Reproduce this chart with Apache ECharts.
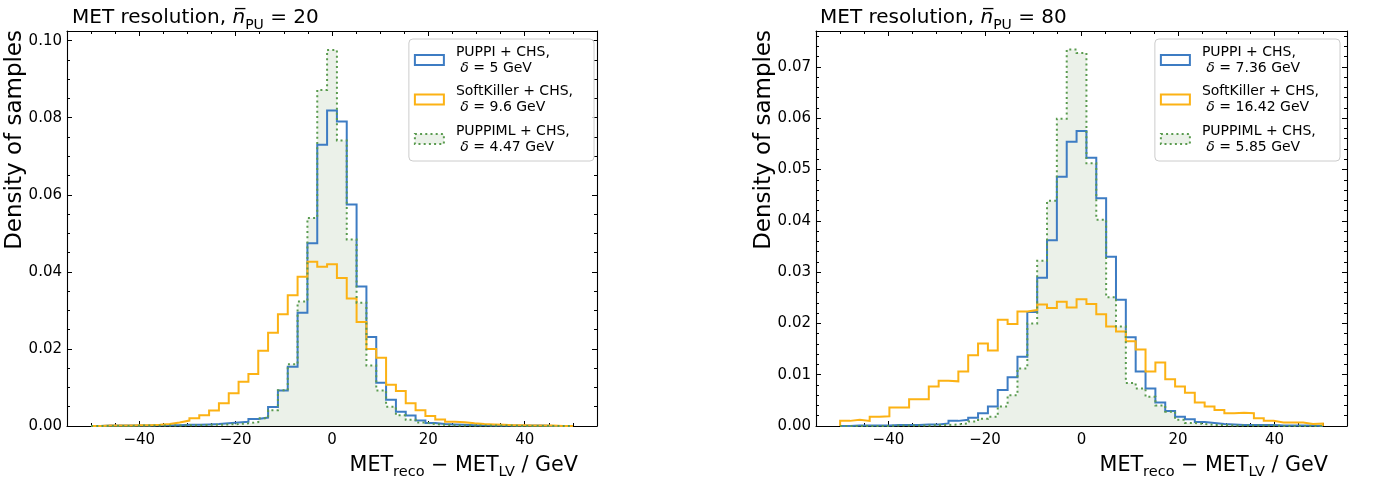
<!DOCTYPE html>
<html><head><meta charset="utf-8">
<script src="https://cdn.jsdelivr.net/npm/echarts@6/dist/echarts.min.js"></script>
<style>html,body{margin:0;padding:0;background:#fff}#c{width:1375px;height:483px}</style>
</head><body><div id="c"></div>
<script>
// ---------------- data ----------------
const BIN_LOW = -50, BIN_HIGH = 50, N_BINS = 49;   // histogram binning (49 bins)
const X_MIN = -55, X_MAX = 55;
const X_MAJOR_TICKS = [-40, -20, 0, 20, 40];
const X_MINOR_TICKS = [-50, -45, -35, -30, -25, -15, -10, -5, 5, 10, 15, 25, 30, 35, 45, 50];
const Y_MAX_20 = 0.1025, Y_MAX_80 = 0.077;
const Y_MAJOR_TICKS_20 = [0, 0.02, 0.04, 0.06, 0.08, 0.10];
const Y_MINOR_TICKS_20 = [0.005, 0.01, 0.015, 0.025, 0.03, 0.035, 0.045, 0.05, 0.055, 0.065, 0.07, 0.075, 0.085, 0.09, 0.095];
const Y_MAJOR_TICKS_80 = [0, 0.01, 0.02, 0.03, 0.04, 0.05, 0.06, 0.07];
const Y_MINOR_TICKS_80 = [0.002, 0.004, 0.006, 0.008, 0.012, 0.014, 0.016, 0.018, 0.022, 0.024, 0.026, 0.028,
  0.032, 0.034, 0.036, 0.038, 0.042, 0.044, 0.046, 0.048, 0.052, 0.054, 0.056, 0.058, 0.062, 0.064, 0.066, 0.068, 0.072, 0.074, 0.076];

const METHODS = ['PUPPI + CHS,', 'SoftKiller + CHS,', 'PUPPIML + CHS,'];
const DELTA_20 = ['5', '9.6', '4.47'];
const DELTA_80 = ['7.36', '16.42', '5.85'];
const TITLE_20 = 'MET resolution, {it|n\u0305}{sub|PU} = 20';
const TITLE_80 = 'MET resolution, {it|n\u0305}{sub|PU} = 80';
const X_NAME = 'MET{sub|reco} \u2212 MET{sub|LV} / GeV';
const Y_NAME = 'Density of samples';

// density per bin, bins ordered from -50 to 50 (index 24 = central bin)
const PUPPI_20 = [0, 0.0001, 0.0001, 0.0001, 0.0001, 0.0001, 0.0002, 0.0002, 0.0002, 0.0003, 0.0003, 0.0004,
  0.0005, 0.0007, 0.0009, 0.0011, 0.0018, 0.0022, 0.0049, 0.0092, 0.0154, 0.0294, 0.0474, 0.0730,
  0.0819,
  0.0790, 0.0575, 0.0362, 0.0231, 0.0112, 0.0068, 0.0037, 0.0027, 0.0014, 0.0008, 0.0005, 0.0004,
  0.0003, 0.0002, 0.0002, 0.0001, 0.0001, 0.0001, 0.0001, 0.0001, 0.0001, 0, 0, 0];
const SOFTKILLER_20 = [0, 0.0001, 0.0001, 0.0001, 0.0002, 0.0002, 0.0003, 0.0005, 0.0009, 0.0014, 0.0020, 0.0028,
  0.0040, 0.0059, 0.0085, 0.0115, 0.0135, 0.0195, 0.0242, 0.0290, 0.0339, 0.0387, 0.0426, 0.0413,
  0.0420,
  0.0384, 0.0331, 0.0270, 0.0200, 0.0177, 0.0107, 0.0091, 0.0059, 0.0041, 0.0026, 0.0017, 0.0011,
  0.0010, 0.0007, 0.0005, 0.0004, 0.0003, 0.0002, 0.0002, 0.0001, 0.0001, 0.0001, 0, 0];
const PUPPIML_20 = [0, 0, 0, 0, 0.0001, 0.0001, 0.0001, 0.0001, 0.0001, 0.0002, 0.0002, 0.0003,
  0.0003, 0.0004, 0.0005, 0.0007, 0.0010, 0.0020, 0.0041, 0.0093, 0.0160, 0.0323, 0.0540, 0.0872,
  0.0976,
  0.0741, 0.0484, 0.0320, 0.0157, 0.0092, 0.0050, 0.0028, 0.0016, 0.0009, 0.0005, 0.0003, 0.0002,
  0.0001, 0.0001, 0.0001, 0.0001, 0.0001, 0.0001, 0, 0, 0, 0, 0, 0];

const PUPPI_80 = [0, 0.0001, 0.0001, 0.0001, 0.0001, 0.0002, 0.0002, 0.0002, 0.0003, 0.0003, 0.0005, 0.0010,
  0.0012, 0.0016, 0.0025, 0.0038, 0.0070, 0.0095, 0.0135, 0.0222, 0.0289, 0.0362, 0.0486, 0.0554,
  0.0575,
  0.0523, 0.0444, 0.0330, 0.0246, 0.0173, 0.0106, 0.0073, 0.0046, 0.0029, 0.0018, 0.0013, 0.0008,
  0.0006, 0.0004, 0.0003, 0.0002, 0.0002, 0.0002, 0.0002, 0.0001, 0.0001, 0.0001, 0.0001, 0];
const SOFTKILLER_80 = [0.0010, 0.0012, 0.0010, 0.0018, 0.0019, 0.0036, 0.0036, 0.0052, 0.0052, 0.0077, 0.0088, 0.0087,
  0.0106, 0.0138, 0.0161, 0.0147, 0.0207, 0.0199, 0.0223, 0.0226, 0.0237, 0.0230, 0.0242, 0.0231,
  0.0247,
  0.0238, 0.0218, 0.0194, 0.0184, 0.0165, 0.0149, 0.0106, 0.0124, 0.0091, 0.0077, 0.0065, 0.0046,
  0.0038, 0.0031, 0.0025, 0.0026, 0.0025, 0.0015, 0.0010, 0.0007, 0.0007, 0.0007, 0.0004, 0.0005];
const PUPPIML_80 = [0, 0, 0, 0, 0, 0.0001, 0.0001, 0.0001, 0.0001, 0.0002, 0.0002, 0.0003,
  0.0005, 0.0009, 0.0014, 0.0018, 0.0038, 0.0060, 0.0112, 0.0200, 0.0322, 0.0439, 0.0599, 0.0734,
  0.0727,
  0.0512, 0.0402, 0.0251, 0.0194, 0.0084, 0.0073, 0.0057, 0.0040, 0.0028, 0.0012, 0.0006, 0.0004,
  0.0002, 0.0002, 0.0001, 0.0001, 0.0001, 0.0001, 0.0001, 0, 0, 0, 0, 0];

// ---------------- styling ----------------
const FONT = 'DejaVu Sans';
const BLUE = '#3d7cc3', ORANGE = '#fcb214', GREEN = '#5a9b4f', GREEN_FILL = '#ebf1e9';
const DOT = [2, 3.2];

const EDGES = Array.from({length: N_BINS + 1}, (_, k) => BIN_LOW + k * (BIN_HIGH - BIN_LOW) / N_BINS);
function stepPoints(vals) {
  const pts = [[EDGES[0], 0]];
  for (let k = 0; k < vals.length; k++) { pts.push([EDGES[k], vals[k]], [EDGES[k + 1], vals[k]]); }
  pts.push([EDGES[vals.length], 0]);
  return pts;
}
function fmtX(v) { return v < 0 ? '\u2212' + Math.abs(v) : String(v); }
const AX_LINE = {show: true, onZero: false, lineStyle: {color: '#000', width: 1.1}};
const NO_LINE = {show: false, onZero: false};
const TICK = (vals, len) => ({show: true, inside: true, length: len, customValues: vals, lineStyle: {color: '#000', width: 1}});
const NO_LABEL = {show: false};
const SUB_RICH = {
  it: {fontStyle: 'italic', fontSize: 20, fontFamily: FONT, color: '#000', lineHeight: 28},
  sub: {fontSize: 14, fontFamily: FONT, color: '#000', verticalAlign: 'bottom', lineHeight: 14}
};
const SUB_RICH_X = {
  sub: {fontSize: 14.5, fontFamily: FONT, color: '#000', verticalAlign: 'bottom', lineHeight: 14}
};

function xAxes(g) {
  const base = {gridIndex: g, type: 'value', min: X_MIN, max: X_MAX, splitLine: {show: false}};
  return [
    Object.assign({}, base, {position: 'bottom', axisLine: AX_LINE, axisTick: TICK(X_MAJOR_TICKS, 5),
      axisLabel: {customValues: X_MAJOR_TICKS, formatter: fmtX, fontSize: 15, fontFamily: FONT, color: '#000', margin: 7}}),
    Object.assign({}, base, {position: 'bottom', axisLine: NO_LINE, axisTick: TICK(X_MINOR_TICKS, 3), axisLabel: NO_LABEL}),
    Object.assign({}, base, {position: 'top', axisLine: AX_LINE, axisTick: TICK(X_MAJOR_TICKS, 5), axisLabel: NO_LABEL}),
    Object.assign({}, base, {position: 'top', axisLine: NO_LINE, axisTick: TICK(X_MINOR_TICKS, 3), axisLabel: NO_LABEL}),
    {gridIndex: g, type: 'value', min: 0, max: 1, position: 'bottom', offset: 40,
      axisLine: NO_LINE, axisTick: {show: false}, axisLabel: NO_LABEL, splitLine: {show: false},
      name: X_NAME, nameLocation: 'end', nameGap: -19,
      nameTextStyle: {fontSize: 20.7, fontFamily: FONT, color: '#000', align: 'right', verticalAlign: 'middle', lineHeight: 28, rich: SUB_RICH_X}}
  ];
}
function yAxes(g, ymax, majors, minors) {
  const base = {gridIndex: g, type: 'value', min: 0, max: ymax, splitLine: {show: false}};
  return [
    Object.assign({}, base, {position: 'left', axisLine: AX_LINE, axisTick: TICK(majors, 5),
      axisLabel: {customValues: majors, formatter: v => v.toFixed(2), fontSize: 15, fontFamily: FONT, color: '#000', margin: 5}}),
    Object.assign({}, base, {position: 'left', axisLine: NO_LINE, axisTick: TICK(minors, 3), axisLabel: NO_LABEL}),
    Object.assign({}, base, {position: 'right', axisLine: AX_LINE, axisTick: TICK(majors, 5), axisLabel: NO_LABEL}),
    Object.assign({}, base, {position: 'right', axisLine: NO_LINE, axisTick: TICK(minors, 3), axisLabel: NO_LABEL}),
    {gridIndex: g, type: 'value', min: 0, max: 1, position: 'left', offset: 52,
      axisLine: NO_LINE, axisTick: {show: false}, axisLabel: NO_LABEL, splitLine: {show: false},
      name: Y_NAME, nameLocation: 'end', nameGap: 1, nameRotate: 90,
      nameTextStyle: {fontSize: 23, fontFamily: FONT, color: '#000', align: 'right', verticalAlign: 'middle'}}
  ];
}
function label(i, deltas) { return METHODS[i] + '\n \u03b4 = ' + deltas[i] + ' GeV'; }

function histLine(name, vals, g, color, type, z) {
  return {type: 'line', name: name, xAxisIndex: g * 5, yAxisIndex: g * 5, data: stepPoints(vals),
    showSymbol: false, symbol: 'none', silent: true, animation: false, emphasis: {disabled: true}, z: z,
    lineStyle: {color: color, width: 2, type: type, join: 'miter', cap: 'butt'}, itemStyle: {color: color}};
}
function fillSeries(name, vals, g) {
  return {type: 'line', name: name, xAxisIndex: g * 5, yAxisIndex: g * 5, data: stepPoints(vals),
    showSymbol: false, symbol: 'none', silent: true, animation: false, emphasis: {disabled: true}, z: 1,
    lineStyle: {width: 0, color: GREEN_FILL}, areaStyle: {color: GREEN_FILL, opacity: 1}, itemStyle: {color: GREEN_FILL}};
}
function panelSeries(g, puppi, sk, ml, deltas) {
  return [
    fillSeries('fill' + g, ml, g),
    histLine(label(0, deltas), puppi, g, BLUE, 'solid', 2),
    histLine(label(1, deltas), sk, g, ORANGE, 'solid', 3),
    histLine(label(2, deltas), ml, g, GREEN, DOT, 4)
  ];
}
function legend(deltas, right) {
  const styles = [
    {color: '#ffffff', borderColor: BLUE, borderWidth: 2},
    {color: '#ffffff', borderColor: ORANGE, borderWidth: 2},
    {color: GREEN_FILL, borderColor: GREEN, borderWidth: 2, borderType: DOT}
  ];
  return {
    orient: 'vertical', right: right, top: 39, selectedMode: false,
    itemWidth: 29, itemHeight: 10, itemGap: 7.5,
    padding: [5, 21, 6, 5],
    backgroundColor: 'rgba(255,255,255,0.8)', borderColor: '#cccccc', borderWidth: 1, borderRadius: 4,
    data: METHODS.map((m, i) => ({name: label(i, deltas), icon: 'rect', itemStyle: styles[i]})),
    formatter: n => n.replace('\u03b4', '{it|\u03b4}'),
    textStyle: {fontSize: 14, fontFamily: FONT, color: '#000', lineHeight: 16, padding: [0, 0, 0, 7],
      rich: {it: {fontStyle: 'italic', fontSize: 14, fontFamily: FONT, color: '#000', lineHeight: 16}}}
  };
}
function title(text, left) {
  return {text: text, left: left, top: -1,
    textStyle: {fontSize: 20, fontWeight: 'normal', fontFamily: FONT, color: '#000', lineHeight: 28, rich: SUB_RICH}};
}

const option = {
  animation: false,
  backgroundColor: '#ffffff',
  title: [title(TITLE_20, 67), title(TITLE_80, 815)],
  legend: [legend(DELTA_20, 781), legend(DELTA_80, 35)],
  grid: [{left: 67, top: 31, width: 530, height: 395}, {left: 816, top: 31, width: 531, height: 395}],
  xAxis: xAxes(0).concat(xAxes(1)),
  yAxis: yAxes(0, Y_MAX_20, Y_MAJOR_TICKS_20, Y_MINOR_TICKS_20).concat(yAxes(1, Y_MAX_80, Y_MAJOR_TICKS_80, Y_MINOR_TICKS_80)),
  series: panelSeries(0, PUPPI_20, SOFTKILLER_20, PUPPIML_20, DELTA_20)
    .concat(panelSeries(1, PUPPI_80, SOFTKILLER_80, PUPPIML_80, DELTA_80))
};
const chart = echarts.init(document.getElementById('c'), null, {renderer: 'canvas'});
chart.setOption(option);
</script></body></html>
